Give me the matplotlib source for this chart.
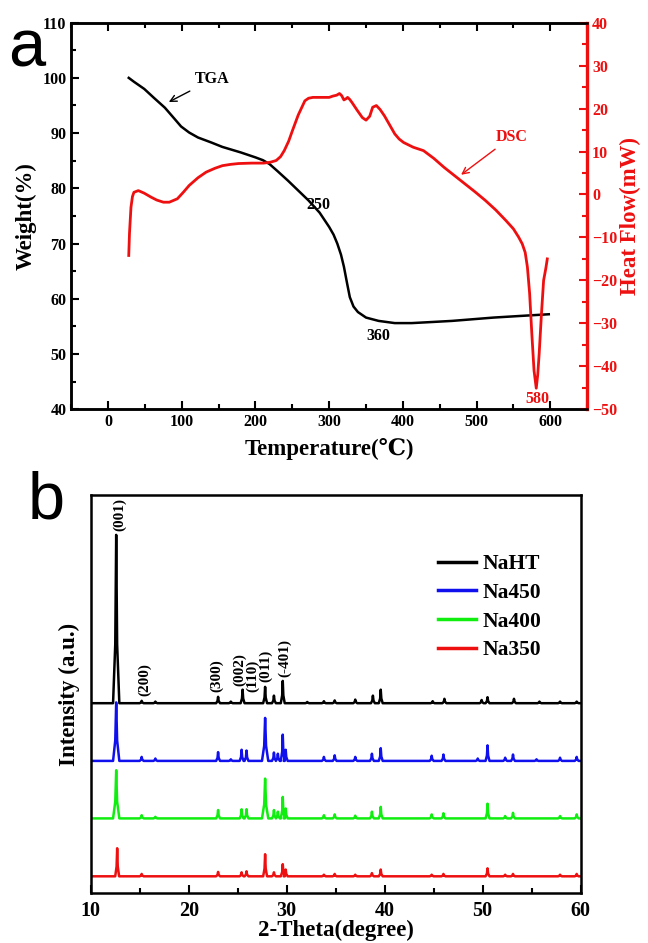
import matplotlib
matplotlib.use('Agg')
import matplotlib.pyplot as plt
from matplotlib.ticker import MultipleLocator

plt.rcParams['font.family'] = ['Liberation Serif', 'DejaVu Serif']
plt.rcParams['font.weight'] = 'bold'
plt.rcParams['axes.labelweight'] = 'bold'
plt.rcParams['axes.linewidth'] = 1.8

# ---- panel a: TGA / DSC ----
tgaTemp = [28, 35, 49, 62, 77, 90, 99, 110, 122, 140, 155, 180, 200, 210, 219, 230, 244,
           258, 272, 287, 300, 306, 311, 316, 320, 324, 328, 333, 339, 350, 367, 389,
           412, 440, 467, 495, 523, 560, 598]
tgaWeight = [100.0, 99.3, 98.0, 96.4, 94.6, 92.6, 91.2, 90.1, 89.2, 88.3, 87.5, 86.5, 85.6,
             85.1, 84.4, 83.1, 81.4, 79.6, 77.8, 75.6, 73.0, 71.6, 70.0, 68.0, 65.8, 63.0,
             60.3, 58.6, 57.6, 56.6, 56.0, 55.6, 55.6, 55.8, 56.0, 56.3, 56.6, 56.9, 57.2]

dscTemp = [28, 29, 31, 33, 35, 41, 49, 58, 66, 75, 83, 94, 102, 110, 122, 133, 145, 155,
           166, 177, 195, 211, 220, 228, 234, 239, 245, 250, 258, 267, 272, 278, 289, 300,
           305, 310, 314, 317, 320, 323, 325, 328, 331, 338, 345, 350, 355, 359, 364, 369,
           375, 382, 389, 395, 401, 414, 428, 442, 456, 470, 484, 498, 512, 526, 540, 550,
           557, 562, 566, 569, 572, 575, 578, 581, 583, 585, 588, 591, 594, 596]
dscHeat = [-14.2, -9.0, -3.0, -0.5, 0.5, 0.9, 0.3, -0.6, -1.3, -1.8, -1.8, -1.0, 0.5,
           2.1, 3.9, 5.2, 6.1, 6.7, 7.0, 7.2, 7.3, 7.3, 7.5, 7.9, 8.8, 10.2, 12.4, 14.8,
           18.5, 21.8, 22.4, 22.6, 22.6, 22.6, 22.9, 23.1, 23.5, 23.0, 22.0, 22.3, 22.6,
           22.1, 21.4, 19.6, 17.9, 17.3, 18.2, 20.3, 20.7, 19.8, 18.3, 16.2, 14.1, 12.9,
           12.1, 11.0, 10.2, 8.4, 6.3, 4.4, 2.5, 0.6, -1.4, -3.6, -6.1, -8.0, -9.9, -11.5,
           -13.5, -16.9, -23.0, -32.4, -41.0, -45.1, -42.0, -37.0, -28.0, -20.0, -17.2, -15.0]

# ---- panel b: XRD (peak position, height above baseline) ----
xrdNames = ['NaHT', 'Na450', 'Na400', 'Na350']
xrdColors = ['black', '#1010ee', '#10ee10', '#ee1010']
xrdBase = [47.7, 33.2, 18.75, 4.2]
pkNaHT = [(12.6, 42.3), (15.2, 0.6), (16.6, 0.4), (23.0, 1.6), (24.3, 0.4), (25.5, 3.4),
          (27.8, 4.1), (28.7, 1.9), (29.6, 5.6), (32.1, 0.3), (33.8, 0.5), (34.9, 0.7),
          (37.0, 0.9), (38.8, 1.9), (39.6, 3.4), (44.9, 0.5), (46.1, 1.1), (49.9, 0.8),
          (50.5, 1.5), (53.2, 1.1), (55.8, 0.4), (57.9, 0.4), (59.6, 0.4)]
pkNa450 = [(12.6, 14.7), (15.2, 1.0), (16.6, 0.6), (23.0, 2.2), (24.3, 0.4), (25.4, 2.8),
           (25.9, 2.6), (27.8, 10.8), (28.7, 2.1), (29.1, 1.8), (29.6, 6.6), (29.9, 2.8),
           (33.8, 1.0), (34.9, 1.4), (37.0, 1.0), (38.7, 1.8), (39.6, 3.2), (44.8, 1.3),
           (46.0, 1.6), (49.5, 0.6), (50.5, 3.9), (52.3, 0.8), (53.1, 1.6), (55.5, 0.4),
           (57.9, 0.8), (59.6, 1.0)]
pkNa400 = [(12.6, 12.1), (15.2, 0.8), (16.6, 0.4), (23.0, 2.1), (25.4, 2.3), (25.9, 2.3),
           (27.8, 10.0), (28.7, 2.1), (29.1, 1.7), (29.6, 5.4), (29.9, 2.5), (33.8, 0.8),
           (34.9, 1.0), (37.0, 0.7), (38.7, 1.7), (39.6, 2.9), (44.8, 1.0), (46.0, 1.3),
           (50.5, 3.7), (52.3, 0.6), (53.1, 1.4), (57.9, 0.6), (59.6, 1.0)]
pkNa350 = [(12.7, 7.05), (15.2, 0.6), (23.0, 1.1), (25.4, 1.0), (25.9, 1.25), (27.8, 5.55),
           (28.7, 1.0), (29.6, 3.05), (29.9, 1.7), (33.8, 0.4), (34.9, 0.6), (37.0, 0.4),
           (38.7, 0.8), (39.6, 1.7), (44.8, 0.4), (46.0, 0.6), (50.5, 2.0), (52.3, 0.4),
           (53.1, 0.6), (57.9, 0.4), (59.6, 0.6)]
xrdPeaks = [pkNaHT, pkNa450, pkNa400, pkNa350]

hklLabels = ['(001)', '(200)', '(300)', '(002)', '(110)', '(011)', '(-401)']
hklPos = [12.95, 15.5, 22.9, 25.2, 26.5, 27.9, 29.8]
hklY = [91.0, 49.5, 50.5, 52.0, 50.5, 53.0, 54.3]


def peakLine(peaks, base):
    xs, ys = [10.0], [base]
    for pos, h in peaks:
        w = 0.32 if h > 9 else 0.2
        xs += [pos - w, pos - w * 0.3, pos, pos + w * 0.3, pos + w]
        ys += [base, base + h * 0.35, base + h, base + h * 0.35, base]
    xs.append(60.0)
    ys.append(base)
    return xs, ys


fig = plt.figure(figsize=(6.48, 9.43), dpi=100)

ax1 = fig.add_axes([0.110, 0.566, 0.796, 0.410])
ax1.plot(tgaTemp, tgaWeight, color='black', lw=1.8)
ax1.set_xlim(-50, 650)
ax1.set_ylim(40, 110)
ax1.xaxis.set_major_locator(MultipleLocator(100))
ax1.xaxis.set_minor_locator(MultipleLocator(50))
ax1.yaxis.set_major_locator(MultipleLocator(10))
ax1.yaxis.set_minor_locator(MultipleLocator(5))
ax1.tick_params(which='both', direction='in', top=True, right=False, labelsize=11.5, width=1.5)
ax1.tick_params(which='major', length=6)
ax1.tick_params(which='minor', length=3.5)
ax1.set_xlabel('Temperature(℃)', fontsize=16.5, labelpad=6)
ax1.set_ylabel('Weight(%)', fontsize=16.5, labelpad=4)

ax2 = ax1.twinx()
ax2.plot(dscTemp, dscHeat, color='#ee1010', lw=2.0)
ax2.set_ylim(-50, 40)
ax2.yaxis.set_major_locator(MultipleLocator(10))
ax2.yaxis.set_minor_locator(MultipleLocator(5))
ax2.tick_params(axis='y', which='both', direction='in', colors='#ee1010', labelsize=11.5, width=1.5)
ax2.tick_params(axis='y', which='major', length=6)
ax2.tick_params(axis='y', which='minor', length=3.5)
ax2.spines['right'].set_color('#ee1010')
ax2.spines['right'].set_linewidth(2.4)
ax2.set_ylabel('Heat Flow(mW)', color='#ee1010', fontsize=16.5, labelpad=2)

ax1.annotate('TGA', xy=(79, 95.4), xytext=(118, 99.0), fontsize=11.5, color='black',
             arrowprops=dict(arrowstyle='->', color='black', lw=1.0))
ax1.text(269, 76.3, '250', fontsize=11.5)
ax1.text(350, 52.6, '360', fontsize=11.5)
ax2.annotate('DSC', xy=(476, 4.2), xytext=(526, 12.5), fontsize=11.5, color='#ee1010',
             arrowprops=dict(arrowstyle='->', color='#ee1010', lw=1.0))
ax2.text(566, -48.5, '580', fontsize=11.5, color='#ee1010')

fig.text(0.012, 0.93, 'a', fontsize=48, family='Liberation Sans', weight='normal')

ax3 = fig.add_axes([0.140, 0.053, 0.756, 0.422])
for name, col, base, peaks in zip(xrdNames, xrdColors, xrdBase, xrdPeaks):
    xs, ys = peakLine(peaks, base)
    ax3.plot(xs, ys, color=col, lw=1.8, label=name)
for lab, px, py in zip(hklLabels, hklPos, hklY):
    ax3.text(px, py, lab, rotation=90, ha='center', va='bottom', fontsize=11)
ax3.set_xlim(10, 60)
ax3.set_ylim(0, 100)
ax3.set_yticks([])
ax3.xaxis.set_major_locator(MultipleLocator(10))
ax3.xaxis.set_minor_locator(MultipleLocator(5))
ax3.tick_params(which='both', direction='in', labelsize=14.5, width=1.5, pad=6)
ax3.tick_params(which='major', length=6)
ax3.tick_params(which='minor', length=3.5)
ax3.set_xlabel('2-Theta(degree)', fontsize=16.5, labelpad=-1)
ax3.set_ylabel('Intensity (a.u.)', fontsize=16.5, labelpad=8)
leg = ax3.legend(loc='upper right', bbox_to_anchor=(0.96, 0.90), frameon=False,
                 fontsize=15.5, handlelength=1.8, labelspacing=0.4, handletextpad=0.3)
for ln in leg.get_lines():
    ln.set_linewidth(2.5)

fig.text(0.043, 0.45, 'b', fontsize=48, family='Liberation Sans', weight='normal')

fig.savefig('out.png', dpi=100)
